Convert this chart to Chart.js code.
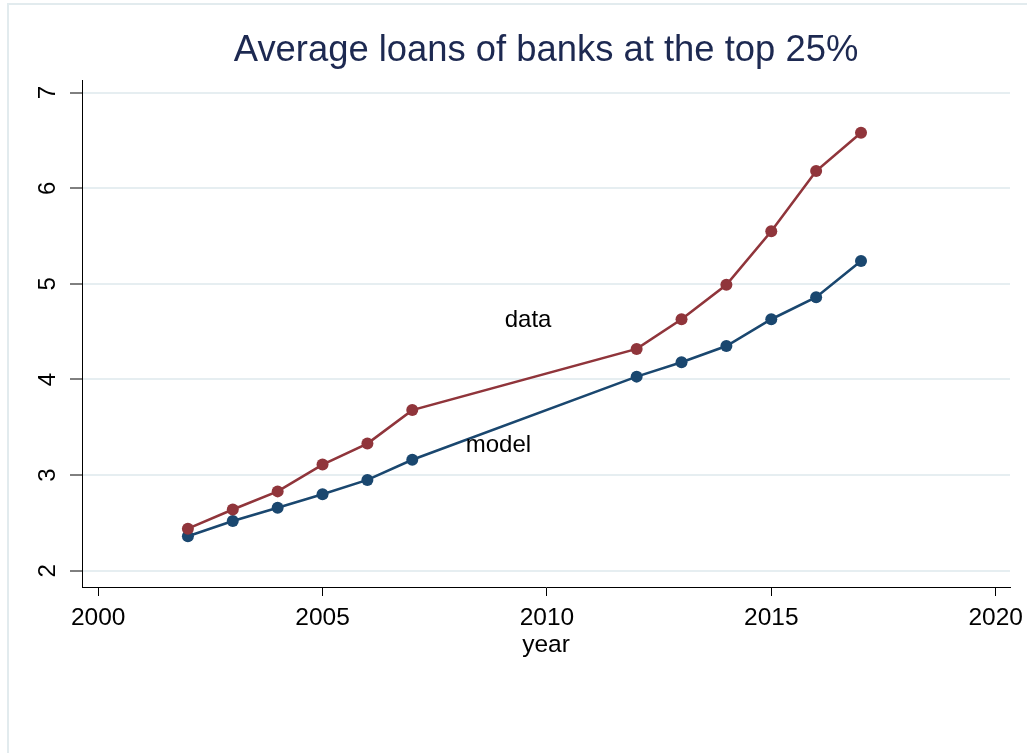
<!DOCTYPE html>
<html>
<head>
<meta charset="utf-8">
<title>Average loans of banks</title>
<script src="https://cdn.jsdelivr.net/npm/chart.js@4.4.1/dist/chart.umd.min.js"></script>
<style>
  html, body { margin: 0; padding: 0; background: #fff; }
  #wrap { position: relative; width: 1027px; height: 753px; }
</style>
</head>
<body>
<div id="wrap"><canvas id="loansChart"></canvas></div>
<script>
const years = [2002, 2003, 2004, 2005, 2006, 2007, 2012, 2013, 2014, 2015, 2016, 2017];
const dataValues = [2.44, 2.64, 2.83, 3.11, 3.33, 3.68, 4.32, 4.63, 4.99, 5.55, 6.18, 6.58];
const modelValues = [2.36, 2.52, 2.66, 2.80, 2.95, 3.16, 4.03, 4.18, 4.35, 4.63, 4.86, 5.24];
const xTicks = [2000, 2005, 2010, 2015, 2020];
const yTicks = [2, 3, 4, 5, 6, 7];

// in-plot series labels: [text, year, value]
const seriesLabels = [
  ['data', 2009.58, 4.62],
  ['model', 2008.92, 3.31]
];

const RED = '#90353b';
const NAVY = '#1a476f';
const FONT = "'Liberation Sans', Arial, sans-serif";

function toPoints(vals) {
  return years.map((y, i) => ({ x: y, y: vals[i] }));
}

// white background, light outer frame, rotated y labels and series labels
const stataExtras = {
  id: 'stataExtras',
  beforeDraw(chart) {
    const ctx = chart.ctx;
    ctx.save();
    ctx.fillStyle = '#fff';
    ctx.fillRect(0, 0, chart.width, chart.height);
    ctx.strokeStyle = '#e2ebee';
    ctx.lineWidth = 2;
    ctx.beginPath();
    ctx.moveTo(8, chart.height);
    ctx.lineTo(8, 4);
    ctx.lineTo(chart.width, 4);
    ctx.stroke();
    ctx.restore();
  },
  afterDatasetsDraw(chart) {
    const ctx = chart.ctx;
    const xs = chart.scales.x, ys = chart.scales.y;
    ctx.save();
    ctx.font = '24px ' + FONT;
    ctx.fillStyle = '#000';
    ctx.textAlign = 'center';
    ctx.textBaseline = 'middle';
    for (const [txt, x, y] of seriesLabels) {
      ctx.fillText(txt, xs.getPixelForValue(x), ys.getPixelForValue(y));
    }
    // y tick labels read bottom-to-top
    for (const v of yTicks) {
      ctx.save();
      ctx.translate(48, ys.getPixelForValue(v));
      ctx.rotate(-Math.PI / 2);
      ctx.fillText(String(v), 0, 0);
      ctx.restore();
    }
    ctx.restore();
  }
};

const chart = new Chart(document.getElementById('loansChart'), {
  type: 'line',
  data: {
    datasets: [
      { label: 'data', data: toPoints(dataValues), borderColor: RED, backgroundColor: RED,
        borderWidth: 2.6, pointRadius: 6, pointBorderWidth: 0, tension: 0 },
      { label: 'model', data: toPoints(modelValues), borderColor: NAVY, backgroundColor: NAVY,
        borderWidth: 2.6, pointRadius: 6, pointBorderWidth: 0, tension: 0 }
    ]
  },
  options: {
    responsive: true,
    maintainAspectRatio: false,
    animation: false,
    events: [],
    layout: { padding: { left: 0, right: 17, top: 0, bottom: 93 } },
    plugins: {
      legend: { display: false },
      tooltip: { enabled: false },
      title: {
        display: true,
        fullSize: false,
        text: 'Average loans of banks at the top 25%',
        color: '#1d2951',
        font: { family: FONT, size: 36.4, weight: 'normal' },
        padding: { top: 29, bottom: 8 }
      }
    },
    scales: {
      x: {
        type: 'linear',
        min: 1999.64,
        max: 2020.32,
        afterBuildTicks: s => { s.ticks = xTicks.map(v => ({ value: v })); },
        // fixed height; the 2020 label may run into the right margin
        afterFit: s => { s.height = 73; s.paddingLeft = 0; s.paddingRight = 0; },
        border: { color: '#000', width: 1 },
        grid: { drawOnChartArea: false, tickColor: '#000', tickLength: 9 },
        ticks: { color: '#000', padding: 8, maxRotation: 0, font: { family: FONT, size: 24.5 },
                 callback: v => String(v) },
        title: { display: true, text: 'year', color: '#000', padding: { top: 0, bottom: 0 },
                 font: { family: FONT, size: 24.5 } }
      },
      y: {
        min: 1.83,
        max: 7.125,
        afterBuildTicks: s => { s.ticks = yTicks.map(v => ({ value: v })); },
        afterFit: s => { s.width = 82; },
        border: { color: '#000', width: 1 },
        grid: { color: '#e6eef1', lineWidth: 2, tickColor: '#000', tickWidth: 1, tickLength: 12 },
        ticks: { display: false }
      }
    }
  },
  plugins: [stataExtras]
});
</script>
</body>
</html>
